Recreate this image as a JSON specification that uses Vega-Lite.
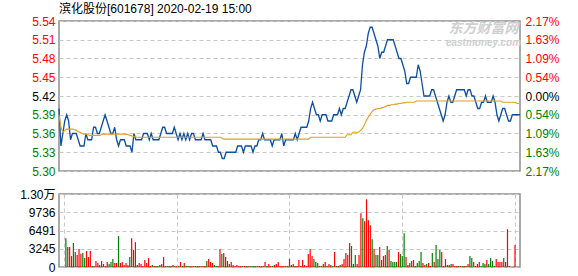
{
"$schema":"https://vega.github.io/schema/vega-lite/v6.json",
"padding":{"left":18,"top":3,"right":0,"bottom":0},
"title":{"text":"滨化股份[601678] 2020-02-19 15:00","anchor":"start","frame":"group","font":"Liberation Sans, Noto Sans CJK SC","fontSize":12,"fontWeight":"normal","color":"#000000","offset":-2},
"config":{"view":{"stroke":"#8e8e8e","strokeWidth":1.5},"axis":{"labelFont":"Liberation Sans, Noto Sans CJK SC","labelFontSize":12,"ticks":false,"domain":false,"gridColor":"#c8c8c8","gridDash":[4,3],"gridWidth":1}},
"spacing":9,
"datasets":{"d":[
{"t":0,"p":5.40,"a":5.39,"v":0,"c":"R"},
{"t":1,"p":5.34,"a":5.37,"v":5133,"c":"G"},
{"t":2,"p":5.36,"a":5.362,"v":3540,"c":"R"},
{"t":3,"p":5.38,"a":5.365,"v":3540,"c":"R"},
{"t":4,"p":5.39,"a":5.367,"v":1947,"c":"R"},
{"t":5,"p":5.38,"a":5.367,"v":4248,"c":"G"},
{"t":6,"p":5.35,"a":5.367,"v":2655,"c":"G"},
{"t":7,"p":5.36,"a":5.367,"v":2124,"c":"R"},
{"t":8,"p":5.36,"a":5.366,"v":3186,"c":"R"},
{"t":9,"p":5.36,"a":5.365,"v":2360,"c":"R"},
{"t":10,"p":5.35,"a":5.363,"v":2478,"c":"G"},
{"t":11,"p":5.34,"a":5.362,"v":1593,"c":"G"},
{"t":12,"p":5.34,"a":5.36,"v":2832,"c":"R"},
{"t":13,"p":5.34,"a":5.359,"v":1770,"c":"R"},
{"t":14,"p":5.36,"a":5.359,"v":2832,"c":"R"},
{"t":15,"p":5.35,"a":5.358,"v":177,"c":"G"},
{"t":16,"p":5.35,"a":5.357,"v":177,"c":"R"},
{"t":17,"p":5.35,"a":5.357,"v":1062,"c":"R"},
{"t":18,"p":5.37,"a":5.357,"v":708,"c":"R"},
{"t":19,"p":5.37,"a":5.357,"v":354,"c":"G"},
{"t":20,"p":5.36,"a":5.357,"v":1062,"c":"R"},
{"t":21,"p":5.36,"a":5.357,"v":531,"c":"R"},
{"t":22,"p":5.37,"a":5.358,"v":177,"c":"R"},
{"t":23,"p":5.38,"a":5.359,"v":885,"c":"R"},
{"t":24,"p":5.39,"a":5.359,"v":531,"c":"G"},
{"t":25,"p":5.38,"a":5.359,"v":885,"c":"G"},
{"t":26,"p":5.37,"a":5.359,"v":1416,"c":"G"},
{"t":27,"p":5.36,"a":5.359,"v":708,"c":"R"},
{"t":28,"p":5.36,"a":5.359,"v":708,"c":"R"},
{"t":29,"p":5.37,"a":5.359,"v":5487,"c":"G"},
{"t":30,"p":5.35,"a":5.359,"v":708,"c":"R"},
{"t":31,"p":5.34,"a":5.359,"v":885,"c":"R"},
{"t":32,"p":5.35,"a":5.359,"v":354,"c":"R"},
{"t":33,"p":5.35,"a":5.359,"v":708,"c":"R"},
{"t":34,"p":5.35,"a":5.359,"v":354,"c":"R"},
{"t":35,"p":5.34,"a":5.359,"v":1770,"c":"G"},
{"t":36,"p":5.34,"a":5.358,"v":5133,"c":"R"},
{"t":37,"p":5.34,"a":5.357,"v":3009,"c":"G"},
{"t":38,"p":5.33,"a":5.356,"v":4425,"c":"R"},
{"t":39,"p":5.36,"a":5.355,"v":354,"c":"G"},
{"t":40,"p":5.35,"a":5.354,"v":708,"c":"R"},
{"t":41,"p":5.35,"a":5.354,"v":531,"c":"R"},
{"t":42,"p":5.35,"a":5.354,"v":177,"c":"R"},
{"t":43,"p":5.35,"a":5.354,"v":1239,"c":"R"},
{"t":44,"p":5.36,"a":5.354,"v":708,"c":"R"},
{"t":45,"p":5.36,"a":5.354,"v":1593,"c":"R"},
{"t":46,"p":5.36,"a":5.354,"v":177,"c":"R"},
{"t":47,"p":5.35,"a":5.354,"v":354,"c":"G"},
{"t":48,"p":5.36,"a":5.354,"v":177,"c":"R"},
{"t":49,"p":5.35,"a":5.354,"v":177,"c":"G"},
{"t":50,"p":5.35,"a":5.354,"v":177,"c":"G"},
{"t":51,"p":5.35,"a":5.354,"v":354,"c":"R"},
{"t":52,"p":5.35,"a":5.354,"v":531,"c":"R"},
{"t":53,"p":5.36,"a":5.354,"v":1770,"c":"R"},
{"t":54,"p":5.37,"a":5.354,"v":177,"c":"R"},
{"t":55,"p":5.37,"a":5.354,"v":177,"c":"G"},
{"t":56,"p":5.36,"a":5.354,"v":177,"c":"G"},
{"t":57,"p":5.36,"a":5.354,"v":177,"c":"R"},
{"t":58,"p":5.36,"a":5.354,"v":354,"c":"R"},
{"t":59,"p":5.36,"a":5.354,"v":177,"c":"G"},
{"t":60,"p":5.37,"a":5.354,"v":177,"c":"R"},
{"t":61,"p":5.36,"a":5.354,"v":177,"c":"G"},
{"t":62,"p":5.35,"a":5.354,"v":885,"c":"R"},
{"t":63,"p":5.36,"a":5.354,"v":177,"c":"G"},
{"t":64,"p":5.35,"a":5.354,"v":708,"c":"R"},
{"t":65,"p":5.36,"a":5.354,"v":177,"c":"G"},
{"t":66,"p":5.35,"a":5.354,"v":177,"c":"G"},
{"t":67,"p":5.36,"a":5.354,"v":177,"c":"R"},
{"t":68,"p":5.35,"a":5.354,"v":177,"c":"R"},
{"t":69,"p":5.36,"a":5.354,"v":177,"c":"G"},
{"t":70,"p":5.36,"a":5.354,"v":177,"c":"R"},
{"t":71,"p":5.35,"a":5.354,"v":177,"c":"G"},
{"t":72,"p":5.35,"a":5.354,"v":177,"c":"R"},
{"t":73,"p":5.35,"a":5.354,"v":177,"c":"R"},
{"t":74,"p":5.35,"a":5.354,"v":177,"c":"R"},
{"t":75,"p":5.36,"a":5.354,"v":177,"c":"R"},
{"t":76,"p":5.35,"a":5.354,"v":1062,"c":"G"},
{"t":77,"p":5.35,"a":5.354,"v":1416,"c":"R"},
{"t":78,"p":5.35,"a":5.354,"v":885,"c":"R"},
{"t":79,"p":5.35,"a":5.354,"v":708,"c":"R"},
{"t":80,"p":5.34,"a":5.354,"v":354,"c":"G"},
{"t":81,"p":5.34,"a":5.354,"v":177,"c":"G"},
{"t":82,"p":5.34,"a":5.354,"v":177,"c":"R"},
{"t":83,"p":5.33,"a":5.354,"v":3186,"c":"R"},
{"t":84,"p":5.33,"a":5.354,"v":2301,"c":"G"},
{"t":85,"p":5.32,"a":5.352,"v":2478,"c":"R"},
{"t":86,"p":5.32,"a":5.351,"v":1770,"c":"G"},
{"t":87,"p":5.33,"a":5.351,"v":1062,"c":"R"},
{"t":88,"p":5.33,"a":5.351,"v":531,"c":"R"},
{"t":89,"p":5.33,"a":5.351,"v":885,"c":"R"},
{"t":90,"p":5.33,"a":5.351,"v":354,"c":"R"},
{"t":91,"p":5.33,"a":5.351,"v":177,"c":"R"},
{"t":92,"p":5.33,"a":5.351,"v":354,"c":"R"},
{"t":93,"p":5.34,"a":5.351,"v":177,"c":"R"},
{"t":94,"p":5.34,"a":5.351,"v":177,"c":"R"},
{"t":95,"p":5.34,"a":5.351,"v":177,"c":"G"},
{"t":96,"p":5.33,"a":5.351,"v":177,"c":"R"},
{"t":97,"p":5.34,"a":5.351,"v":177,"c":"G"},
{"t":98,"p":5.34,"a":5.351,"v":177,"c":"R"},
{"t":99,"p":5.34,"a":5.351,"v":177,"c":"G"},
{"t":100,"p":5.34,"a":5.351,"v":177,"c":"G"},
{"t":101,"p":5.33,"a":5.351,"v":177,"c":"G"},
{"t":102,"p":5.34,"a":5.351,"v":177,"c":"R"},
{"t":103,"p":5.34,"a":5.351,"v":177,"c":"R"},
{"t":104,"p":5.35,"a":5.351,"v":177,"c":"G"},
{"t":105,"p":5.35,"a":5.351,"v":177,"c":"R"},
{"t":106,"p":5.36,"a":5.351,"v":177,"c":"R"},
{"t":107,"p":5.35,"a":5.351,"v":885,"c":"R"},
{"t":108,"p":5.35,"a":5.351,"v":177,"c":"G"},
{"t":109,"p":5.35,"a":5.351,"v":531,"c":"R"},
{"t":110,"p":5.35,"a":5.351,"v":177,"c":"R"},
{"t":111,"p":5.34,"a":5.351,"v":177,"c":"G"},
{"t":112,"p":5.35,"a":5.351,"v":354,"c":"R"},
{"t":113,"p":5.35,"a":5.351,"v":531,"c":"R"},
{"t":114,"p":5.35,"a":5.351,"v":885,"c":"R"},
{"t":115,"p":5.35,"a":5.351,"v":177,"c":"R"},
{"t":116,"p":5.36,"a":5.351,"v":177,"c":"R"},
{"t":117,"p":5.34,"a":5.351,"v":177,"c":"R"},
{"t":118,"p":5.35,"a":5.351,"v":177,"c":"R"},
{"t":119,"p":5.35,"a":5.351,"v":177,"c":"G"},
{"t":120,"p":5.35,"a":5.351,"v":1416,"c":"R"},
{"t":121,"p":5.35,"a":5.351,"v":354,"c":"R"},
{"t":122,"p":5.35,"a":5.351,"v":531,"c":"R"},
{"t":123,"p":5.36,"a":5.351,"v":177,"c":"G"},
{"t":124,"p":5.35,"a":5.351,"v":177,"c":"R"},
{"t":125,"p":5.36,"a":5.351,"v":1239,"c":"R"},
{"t":126,"p":5.37,"a":5.351,"v":177,"c":"R"},
{"t":127,"p":5.37,"a":5.351,"v":1239,"c":"R"},
{"t":128,"p":5.37,"a":5.351,"v":354,"c":"R"},
{"t":129,"p":5.37,"a":5.351,"v":177,"c":"R"},
{"t":130,"p":5.38,"a":5.351,"v":2301,"c":"R"},
{"t":131,"p":5.40,"a":5.354,"v":3186,"c":"R"},
{"t":132,"p":5.41,"a":5.354,"v":1947,"c":"R"},
{"t":133,"p":5.40,"a":5.354,"v":1416,"c":"G"},
{"t":134,"p":5.39,"a":5.354,"v":885,"c":"G"},
{"t":135,"p":5.39,"a":5.354,"v":708,"c":"R"},
{"t":136,"p":5.38,"a":5.354,"v":177,"c":"G"},
{"t":137,"p":5.39,"a":5.354,"v":177,"c":"G"},
{"t":138,"p":5.39,"a":5.354,"v":531,"c":"R"},
{"t":139,"p":5.39,"a":5.354,"v":885,"c":"R"},
{"t":140,"p":5.38,"a":5.354,"v":177,"c":"G"},
{"t":141,"p":5.38,"a":5.354,"v":531,"c":"R"},
{"t":142,"p":5.38,"a":5.354,"v":354,"c":"R"},
{"t":143,"p":5.39,"a":5.354,"v":177,"c":"G"},
{"t":144,"p":5.39,"a":5.354,"v":2655,"c":"R"},
{"t":145,"p":5.39,"a":5.354,"v":177,"c":"G"},
{"t":146,"p":5.40,"a":5.354,"v":177,"c":"R"},
{"t":147,"p":5.39,"a":5.354,"v":354,"c":"G"},
{"t":148,"p":5.40,"a":5.354,"v":531,"c":"R"},
{"t":149,"p":5.40,"a":5.354,"v":1416,"c":"R"},
{"t":150,"p":5.41,"a":5.358,"v":2478,"c":"R"},
{"t":151,"p":5.42,"a":5.358,"v":2124,"c":"R"},
{"t":152,"p":5.43,"a":5.358,"v":4248,"c":"R"},
{"t":153,"p":5.43,"a":5.362,"v":3717,"c":"G"},
{"t":154,"p":5.42,"a":5.362,"v":531,"c":"G"},
{"t":155,"p":5.41,"a":5.362,"v":2124,"c":"G"},
{"t":156,"p":5.42,"a":5.362,"v":531,"c":"R"},
{"t":157,"p":5.43,"a":5.365,"v":2124,"c":"R"},
{"t":158,"p":5.47,"a":5.368,"v":9558,"c":"R"},
{"t":159,"p":5.49,"a":5.374,"v":8673,"c":"G"},
{"t":160,"p":5.50,"a":5.381,"v":8142,"c":"R"},
{"t":161,"p":5.52,"a":5.386,"v":12036,"c":"R"},
{"t":162,"p":5.53,"a":5.391,"v":8319,"c":"R"},
{"t":163,"p":5.53,"a":5.395,"v":7434,"c":"R"},
{"t":164,"p":5.52,"a":5.398,"v":4956,"c":"G"},
{"t":165,"p":5.51,"a":5.399,"v":3186,"c":"R"},
{"t":166,"p":5.50,"a":5.400,"v":2124,"c":"G"},
{"t":167,"p":5.48,"a":5.400,"v":2124,"c":"G"},
{"t":168,"p":5.49,"a":5.401,"v":3540,"c":"R"},
{"t":169,"p":5.49,"a":5.402,"v":1239,"c":"G"},
{"t":170,"p":5.50,"a":5.403,"v":1947,"c":"R"},
{"t":171,"p":5.51,"a":5.405,"v":2124,"c":"R"},
{"t":172,"p":5.51,"a":5.405,"v":3717,"c":"G"},
{"t":173,"p":5.51,"a":5.406,"v":3009,"c":"R"},
{"t":174,"p":5.51,"a":5.406,"v":1062,"c":"G"},
{"t":175,"p":5.50,"a":5.407,"v":885,"c":"G"},
{"t":176,"p":5.49,"a":5.407,"v":885,"c":"G"},
{"t":177,"p":5.48,"a":5.408,"v":885,"c":"G"},
{"t":178,"p":5.48,"a":5.408,"v":2655,"c":"R"},
{"t":179,"p":5.47,"a":5.409,"v":2301,"c":"G"},
{"t":180,"p":5.46,"a":5.409,"v":1947,"c":"G"},
{"t":181,"p":5.44,"a":5.410,"v":6018,"c":"G"},
{"t":182,"p":5.44,"a":5.410,"v":1770,"c":"R"},
{"t":183,"p":5.45,"a":5.410,"v":354,"c":"R"},
{"t":184,"p":5.45,"a":5.410,"v":708,"c":"G"},
{"t":185,"p":5.45,"a":5.410,"v":1062,"c":"R"},
{"t":186,"p":5.45,"a":5.412,"v":1239,"c":"R"},
{"t":187,"p":5.47,"a":5.412,"v":177,"c":"R"},
{"t":188,"p":5.46,"a":5.412,"v":708,"c":"G"},
{"t":189,"p":5.44,"a":5.412,"v":1062,"c":"G"},
{"t":190,"p":5.42,"a":5.412,"v":2655,"c":"G"},
{"t":191,"p":5.42,"a":5.412,"v":708,"c":"R"},
{"t":192,"p":5.42,"a":5.412,"v":354,"c":"R"},
{"t":193,"p":5.42,"a":5.412,"v":531,"c":"G"},
{"t":194,"p":5.43,"a":5.412,"v":708,"c":"R"},
{"t":195,"p":5.43,"a":5.412,"v":177,"c":"R"},
{"t":196,"p":5.42,"a":5.412,"v":2478,"c":"G"},
{"t":197,"p":5.41,"a":5.412,"v":885,"c":"R"},
{"t":198,"p":5.40,"a":5.412,"v":3894,"c":"G"},
{"t":199,"p":5.39,"a":5.412,"v":1416,"c":"G"},
{"t":200,"p":5.38,"a":5.412,"v":3009,"c":"G"},
{"t":201,"p":5.39,"a":5.412,"v":2655,"c":"R"},
{"t":202,"p":5.41,"a":5.412,"v":177,"c":"R"},
{"t":203,"p":5.42,"a":5.412,"v":1416,"c":"R"},
{"t":204,"p":5.41,"a":5.412,"v":354,"c":"G"},
{"t":205,"p":5.41,"a":5.412,"v":354,"c":"R"},
{"t":206,"p":5.42,"a":5.412,"v":531,"c":"G"},
{"t":207,"p":5.43,"a":5.412,"v":531,"c":"R"},
{"t":208,"p":5.43,"a":5.412,"v":177,"c":"R"},
{"t":209,"p":5.43,"a":5.412,"v":177,"c":"R"},
{"t":210,"p":5.43,"a":5.412,"v":177,"c":"G"},
{"t":211,"p":5.43,"a":5.412,"v":177,"c":"R"},
{"t":212,"p":5.42,"a":5.412,"v":177,"c":"G"},
{"t":213,"p":5.43,"a":5.412,"v":177,"c":"R"},
{"t":214,"p":5.43,"a":5.412,"v":177,"c":"G"},
{"t":215,"p":5.42,"a":5.412,"v":531,"c":"R"},
{"t":216,"p":5.42,"a":5.412,"v":1947,"c":"G"},
{"t":217,"p":5.41,"a":5.412,"v":1593,"c":"G"},
{"t":218,"p":5.40,"a":5.412,"v":885,"c":"R"},
{"t":219,"p":5.40,"a":5.412,"v":177,"c":"G"},
{"t":220,"p":5.41,"a":5.412,"v":531,"c":"R"},
{"t":221,"p":5.41,"a":5.412,"v":885,"c":"R"},
{"t":222,"p":5.42,"a":5.412,"v":177,"c":"G"},
{"t":223,"p":5.41,"a":5.412,"v":708,"c":"G"},
{"t":224,"p":5.41,"a":5.412,"v":531,"c":"G"},
{"t":225,"p":5.41,"a":5.412,"v":1239,"c":"R"},
{"t":226,"p":5.42,"a":5.412,"v":531,"c":"G"},
{"t":227,"p":5.41,"a":5.412,"v":1593,"c":"G"},
{"t":228,"p":5.39,"a":5.412,"v":1062,"c":"G"},
{"t":229,"p":5.38,"a":5.412,"v":177,"c":"G"},
{"t":230,"p":5.39,"a":5.412,"v":1416,"c":"R"},
{"t":231,"p":5.40,"a":5.410,"v":885,"c":"R"},
{"t":232,"p":5.40,"a":5.410,"v":885,"c":"R"},
{"t":233,"p":5.39,"a":5.410,"v":885,"c":"R"},
{"t":234,"p":5.38,"a":5.410,"v":1593,"c":"G"},
{"t":235,"p":5.38,"a":5.410,"v":885,"c":"R"},
{"t":236,"p":5.39,"a":5.410,"v":6726,"c":"R"},
{"t":237,"p":5.39,"a":5.410,"v":177,"c":"R"},
{"t":238,"p":5.39,"a":5.409,"v":0,"c":"R"},
{"t":239,"p":5.39,"a":5.408,"v":0,"c":"R"},
{"t":240,"p":5.39,"a":5.408,"v":3894,"c":"R"}
]},
"vconcat":[
{
"width":461,"height":150,
"data":{"name":"d"},
"layer":[
{"mark":{"type":"line","color":"#0b4ea2","strokeWidth":1.3},
 "encoding":{
  "x":{"field":"t","type":"quantitative","scale":{"domain":[0,240],"nice":false,"zero":false},
       "axis":{"values":[0,60,120,180,240],"labelExpr":"datum.value==0?'09:30':datum.value==60?'10:30':datum.value==120?'11:30/13:00':datum.value==180?'14:00':'15:00'","labelFlush":true,"grid":true,"title":null,"labelColor":"#000000","labelPadding":4}},
  "y":{"field":"p","type":"quantitative","scale":{"domain":[5.30,5.54],"nice":false,"zero":false},
       "axis":{"orient":"left","values":[5.30,5.33,5.36,5.39,5.42,5.45,5.48,5.51,5.54],"format":".2f","grid":true,"title":null,"labelPadding":4,
               "labelColor":{"condition":[{"test":"datum.value > 5.425","value":"#ff0000"},{"test":"datum.value > 5.415","value":"#000000"}],"value":"#008000"}}}}},
{"mark":{"type":"line","color":"#e0a020","strokeWidth":1.1},
 "encoding":{
  "x":{"field":"t","type":"quantitative","axis":null},
  "y":{"field":"a","type":"quantitative",
       "axis":{"orient":"right","values":[5.30,5.33,5.36,5.39,5.42,5.45,5.48,5.51,5.54],"labelExpr":"['0.00%','0.54%','1.09%','1.63%','2.17%'][abs(round((datum.value-5.42)/0.03))]","grid":false,"title":null,"labelPadding":5,
               "labelColor":{"condition":[{"test":"datum.value > 5.425","value":"#ff0000"},{"test":"datum.value > 5.415","value":"#000000"}],"value":"#008000"}}}}},
{"data":{"values":[{"w":"东方财富网"}]},
 "mark":{"type":"text","font":"Noto Sans CJK SC","fontSize":14,"fontWeight":"bold","fontStyle":"italic","color":"#cfcfcf","align":"center","baseline":"middle"},
 "encoding":{"x":{"datum":221,"type":"quantitative","axis":null},"y":{"datum":5.527,"type":"quantitative","axis":null},"text":{"field":"w"}}},
{"data":{"values":[{"w":"eastmoney.com"}]},
 "mark":{"type":"text","font":"Liberation Sans","fontSize":10,"fontWeight":"bold","fontStyle":"italic","color":"#cfcfcf","align":"center","baseline":"middle"},
 "encoding":{"x":{"datum":221,"type":"quantitative","axis":null},"y":{"datum":5.505,"type":"quantitative","axis":null},"text":{"field":"w"}}}
],
"resolve":{"axis":{"y":"independent"}}
},
{
"width":461,"height":73,
"data":{"name":"d"},
"mark":{"type":"bar","width":1.2},
"encoding":{
 "x":{"field":"t","type":"quantitative","scale":{"domain":[0,240],"nice":false,"zero":false},
      "axis":{"values":[0,60,120,180,240],"labels":false,"grid":true,"title":null}},
 "y":{"field":"v","type":"quantitative","scale":{"domain":[0,12982],"nice":false},
      "axis":{"values":[0,3245,6491,9736,12982],"labelExpr":"datum.value > 12000 ? '1.30万' : format(datum.value, 'd')","grid":true,"title":null,"labelPadding":4,"labelColor":"#000000"}},
 "color":{"field":"c","type":"nominal","scale":{"domain":["R","G"],"range":["#ff0000","#008000"]},"legend":null}
}
}
]
}
